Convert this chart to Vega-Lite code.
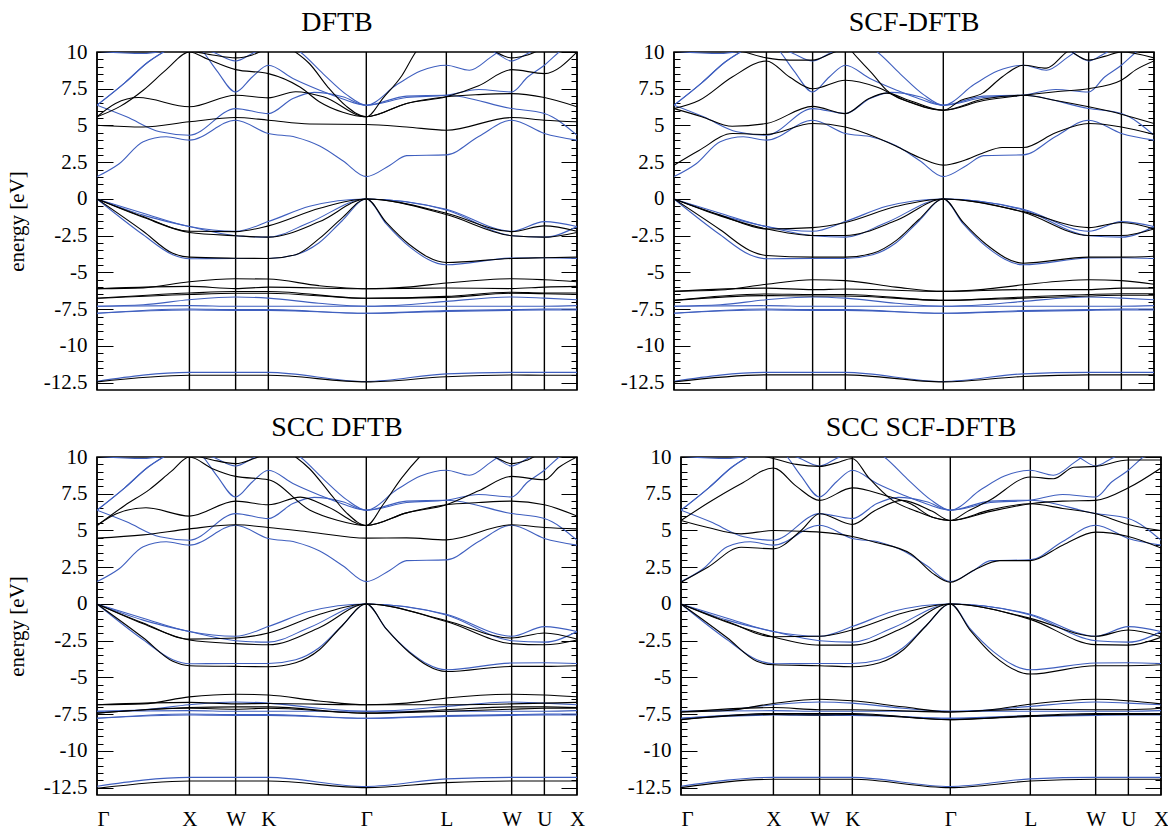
{
"$schema": "https://vega.github.io/schema/vega-lite/v6.json",
"padding": {"left": 5, "top": 8, "right": 5, "bottom": 5},
"background": "white",
"config": {
 "view": {"stroke": "black", "strokeWidth": 1.5},
 "font": "Liberation Serif",
 "title": {"font": "Liberation Serif", "fontSize": 28, "fontWeight": "normal", "color": "black", "baseline": "alphabetic", "offset": 4},
 "axis": {"labelFont": "Liberation Serif", "labelFontSize": 21, "labelColor": "black", "titleFont": "Liberation Serif", "titleFontSize": 21, "titleFontWeight": "normal", "titleColor": "black", "tickColor": "black", "domain": false, "grid": false, "labelOverlap": false, "labelFlush": false, "labelBound": false}
},
"datasets": {
"kp": [{"k":0},{"k":1},{"k":1.5},{"k":1.854},{"k":2.914},{"k":3.78},{"k":4.487},{"k":4.841},{"k":5.194}],
"blue": [
{"b":"v1","k":0,"e":0},{"b":"v1","k":0.5,"e":-0.97},{"b":"v1","k":1,"e":-1.88},{"b":"v1","k":1.5,"e":-2.2},{"b":"v1","k":1.854,"e":-1.54},{"b":"v1","k":2.3,"e":-0.5},{"b":"v1","k":2.914,"e":0},{"b":"v1","k":3.78,"e":-0.7},{"b":"v1","k":4.487,"e":-2.2},{"b":"v1","k":4.841,"e":-1.54},{"b":"v1","k":5.194,"e":-1.88},
{"b":"v2","k":0,"e":0},{"b":"v2","k":0.5,"e":-1.1},{"b":"v2","k":1,"e":-1.88},{"b":"v2","k":1.5,"e":-2.5},{"b":"v2","k":1.854,"e":-2.6},{"b":"v2","k":2.3,"e":-1.6},{"b":"v2","k":2.914,"e":0},{"b":"v2","k":3.78,"e":-0.75},{"b":"v2","k":4.487,"e":-2.5},{"b":"v2","k":4.841,"e":-2.6},{"b":"v2","k":5.194,"e":-1.88},
{"b":"v3","k":0,"e":0},{"b":"v3","k":0.5,"e":-2.44},{"b":"v3","k":0.82,"e":-3.8},{"b":"v3","k":1,"e":-4.07},{"b":"v3","k":1.5,"e":-4.05},{"b":"v3","k":1.854,"e":-4.05},{"b":"v3","k":2.15,"e":-3.8},{"b":"v3","k":2.4,"e":-3.0},{"b":"v3","k":2.65,"e":-1.5},{"b":"v3","k":2.914,"e":0},{"b":"v3","k":3.13,"e":-1.7},{"b":"v3","k":3.38,"e":-3.24},{"b":"v3","k":3.78,"e":-4.48},{"b":"v3","k":4.487,"e":-4.02},{"b":"v3","k":4.841,"e":-4.0},{"b":"v3","k":5.194,"e":-4.05},
{"b":"f1","k":0,"e":-7.3},{"b":"f1","k":0.5,"e":-7.2},{"b":"f1","k":1,"e":-6.86},{"b":"f1","k":1.5,"e":-6.67},{"b":"f1","k":1.854,"e":-6.75},{"b":"f1","k":2.4,"e":-7.1},{"b":"f1","k":2.914,"e":-7.3},{"b":"f1","k":3.35,"e":-7.2},{"b":"f1","k":3.78,"e":-6.97},{"b":"f1","k":4.487,"e":-6.67},{"b":"f1","k":4.841,"e":-6.75},{"b":"f1","k":5.194,"e":-6.86},
{"b":"f2","k":0,"e":-7.3},{"b":"f2","k":1,"e":-7.26},{"b":"f2","k":1.5,"e":-7.3},{"b":"f2","k":1.854,"e":-7.3},{"b":"f2","k":2.914,"e":-7.3},{"b":"f2","k":3.78,"e":-7.3},{"b":"f2","k":4.487,"e":-7.3},{"b":"f2","k":4.841,"e":-7.3},{"b":"f2","k":5.194,"e":-7.26},
{"b":"f3","k":0,"e":-7.78},{"b":"f3","k":1,"e":-7.49},{"b":"f3","k":1.5,"e":-7.53},{"b":"f3","k":1.854,"e":-7.53},{"b":"f3","k":2.914,"e":-7.78},{"b":"f3","k":3.78,"e":-7.6},{"b":"f3","k":4.487,"e":-7.53},{"b":"f3","k":4.841,"e":-7.5},{"b":"f3","k":5.194,"e":-7.49},
{"b":"f4","k":0,"e":-7.78},{"b":"f4","k":1,"e":-7.56},{"b":"f4","k":1.5,"e":-7.58},{"b":"f4","k":1.854,"e":-7.58},{"b":"f4","k":2.914,"e":-7.78},{"b":"f4","k":3.78,"e":-7.65},{"b":"f4","k":4.487,"e":-7.58},{"b":"f4","k":4.841,"e":-7.56},{"b":"f4","k":5.194,"e":-7.56},
{"b":"s","k":0,"e":-12.4},{"b":"s","k":1,"e":-11.8},{"b":"s","k":1.5,"e":-11.8},{"b":"s","k":1.854,"e":-11.8},{"b":"s","k":2.914,"e":-12.42},{"b":"s","k":3.78,"e":-11.9},{"b":"s","k":4.487,"e":-11.8},{"b":"s","k":4.841,"e":-11.8},{"b":"s","k":5.194,"e":-11.8},
{"b":"c1","k":0,"e":1.52},{"b":"c1","k":0.24,"e":2.4},{"b":"c1","k":0.5,"e":3.9},{"b":"c1","k":0.75,"e":4.23},{"b":"c1","k":1,"e":4.0},{"b":"c1","k":1.5,"e":5.36},{"b":"c1","k":1.854,"e":4.46},{"b":"c1","k":2.15,"e":4.2},{"b":"c1","k":2.41,"e":3.6},{"b":"c1","k":2.66,"e":2.6},{"b":"c1","k":2.914,"e":1.52},{"b":"c1","k":3.17,"e":2.3},{"b":"c1","k":3.35,"e":2.95},{"b":"c1","k":3.78,"e":3.0},{"b":"c1","k":4.13,"e":4.25},{"b":"c1","k":4.487,"e":5.36},{"b":"c1","k":4.841,"e":4.46},{"b":"c1","k":5.194,"e":4.0},
{"b":"c2","k":0,"e":6.38},{"b":"c2","k":0.32,"e":5.59},{"b":"c2","k":0.68,"e":4.57},{"b":"c2","k":1,"e":4.34},{"b":"c2","k":1.5,"e":6.15},{"b":"c2","k":1.854,"e":5.81},{"b":"c2","k":2.12,"e":6.83},{"b":"c2","k":2.35,"e":7.25},{"b":"c2","k":2.66,"e":6.95},{"b":"c2","k":2.914,"e":6.38},{"b":"c2","k":3.35,"e":7.0},{"b":"c2","k":3.78,"e":7.06},{"b":"c2","k":4.487,"e":6.15},{"b":"c2","k":4.841,"e":5.81},{"b":"c2","k":5.194,"e":4.34},
{"b":"c3","k":0,"e":6.38},{"b":"c3","k":0.3,"e":7.9},{"b":"c3","k":0.55,"e":9.3},{"b":"c3","k":0.8,"e":10.3},{"b":"c3","k":1,"e":11},{"b":"c3","k":1.854,"e":11},{"b":"c3","k":2.2,"e":10.0},{"b":"c3","k":2.45,"e":8.5},{"b":"c3","k":2.7,"e":7.1},{"b":"c3","k":2.914,"e":6.38},{"b":"c3","k":3.25,"e":7.8},{"b":"c3","k":3.5,"e":8.7},{"b":"c3","k":3.78,"e":9.1},{"b":"c3","k":4.03,"e":8.76},{"b":"c3","k":4.25,"e":9.6},{"b":"c3","k":4.4,"e":10.3},{"b":"c3","k":4.487,"e":10.8},{"b":"c3","k":5.194,"e":11},
{"b":"c4","k":0,"e":6.38},{"b":"c4","k":0.3,"e":7.9},{"b":"c4","k":0.55,"e":9.3},{"b":"c4","k":0.8,"e":10.3},{"b":"c4","k":1,"e":11},{"b":"c4","k":1.15,"e":10.0},{"b":"c4","k":1.3,"e":8.7},{"b":"c4","k":1.5,"e":7.28},{"b":"c4","k":1.68,"e":8.3},{"b":"c4","k":1.854,"e":9.1},{"b":"c4","k":2.12,"e":8.2},{"b":"c4","k":2.41,"e":7.4},{"b":"c4","k":2.66,"e":6.8},{"b":"c4","k":2.914,"e":6.38},{"b":"c4","k":3.35,"e":6.9},{"b":"c4","k":3.78,"e":7.06},{"b":"c4","k":4.13,"e":7.45},{"b":"c4","k":4.487,"e":7.28},{"b":"c4","k":4.66,"e":8.3},{"b":"c4","k":4.841,"e":9.1},{"b":"c4","k":5.0,"e":10.0},{"b":"c4","k":5.194,"e":11},
{"b":"c5","k":0,"e":10.05},{"b":"c5","k":0.5,"e":9.9},{"b":"c5","k":0.9,"e":10.3},{"b":"c5","k":1,"e":10.4},{"b":"c5","k":1.25,"e":10.0},{"b":"c5","k":1.5,"e":9.39},{"b":"c5","k":1.68,"e":9.9},{"b":"c5","k":1.854,"e":10.4},{"b":"c5","k":2.3,"e":11},{"b":"c5","k":2.914,"e":11},{"b":"c5","k":3.78,"e":11},{"b":"c5","k":4.3,"e":10.0},{"b":"c5","k":4.487,"e":9.39},{"b":"c5","k":4.66,"e":9.9},{"b":"c5","k":4.841,"e":10.4},{"b":"c5","k":5.194,"e":10.4}
],
"black": [
{"p":"A","b":"v1","k":0,"e":0},{"p":"A","b":"v1","k":0.5,"e":-1.2},{"p":"A","b":"v1","k":1,"e":-2.2},{"p":"A","b":"v1","k":1.5,"e":-2.22},{"p":"A","b":"v1","k":1.854,"e":-1.83},{"p":"A","b":"v1","k":2.41,"e":-0.63},{"p":"A","b":"v1","k":2.914,"e":0},{"p":"A","b":"v1","k":3.78,"e":-0.97},{"p":"A","b":"v1","k":4.487,"e":-2.22},{"p":"A","b":"v1","k":4.841,"e":-1.83},{"p":"A","b":"v1","k":5.194,"e":-2.2},
{"p":"A","b":"v2","k":0,"e":0},{"p":"A","b":"v2","k":0.5,"e":-1.25},{"p":"A","b":"v2","k":1,"e":-2.28},{"p":"A","b":"v2","k":1.5,"e":-2.5},{"p":"A","b":"v2","k":1.854,"e":-2.6},{"p":"A","b":"v2","k":2.41,"e":-1.54},{"p":"A","b":"v2","k":2.914,"e":0},{"p":"A","b":"v2","k":3.78,"e":-1.06},{"p":"A","b":"v2","k":4.487,"e":-2.5},{"p":"A","b":"v2","k":4.841,"e":-2.6},{"p":"A","b":"v2","k":5.194,"e":-2.28},
{"p":"A","b":"v3","k":0,"e":0},{"p":"A","b":"v3","k":0.5,"e":-2.2},{"p":"A","b":"v3","k":0.82,"e":-3.7},{"p":"A","b":"v3","k":1,"e":-3.96},{"p":"A","b":"v3","k":1.5,"e":-4.03},{"p":"A","b":"v3","k":1.854,"e":-4.05},{"p":"A","b":"v3","k":2.15,"e":-3.8},{"p":"A","b":"v3","k":2.41,"e":-2.67},{"p":"A","b":"v3","k":2.65,"e":-1.3},{"p":"A","b":"v3","k":2.914,"e":0},{"p":"A","b":"v3","k":3.13,"e":-1.6},{"p":"A","b":"v3","k":3.38,"e":-3.1},{"p":"A","b":"v3","k":3.78,"e":-4.32},{"p":"A","b":"v3","k":4.487,"e":-4.05},{"p":"A","b":"v3","k":4.841,"e":-4.0},{"p":"A","b":"v3","k":5.194,"e":-3.96},
{"p":"A","b":"f1","k":0,"e":-6.11},{"p":"A","b":"f1","k":0.5,"e":-6.05},{"p":"A","b":"f1","k":1,"e":-5.63},{"p":"A","b":"f1","k":1.5,"e":-5.43},{"p":"A","b":"f1","k":1.854,"e":-5.45},{"p":"A","b":"f1","k":2.4,"e":-5.9},{"p":"A","b":"f1","k":2.914,"e":-6.11},{"p":"A","b":"f1","k":3.35,"e":-6.0},{"p":"A","b":"f1","k":3.78,"e":-5.72},{"p":"A","b":"f1","k":4.487,"e":-5.43},{"p":"A","b":"f1","k":4.841,"e":-5.5},{"p":"A","b":"f1","k":5.194,"e":-5.63},
{"p":"A","b":"f2","k":0,"e":-6.11},{"p":"A","b":"f2","k":1,"e":-5.95},{"p":"A","b":"f2","k":1.5,"e":-6.1},{"p":"A","b":"f2","k":1.854,"e":-6.0},{"p":"A","b":"f2","k":2.914,"e":-6.11},{"p":"A","b":"f2","k":3.78,"e":-6.06},{"p":"A","b":"f2","k":4.487,"e":-6.1},{"p":"A","b":"f2","k":4.841,"e":-6.0},{"p":"A","b":"f2","k":5.194,"e":-5.95},
{"p":"A","b":"f3","k":0,"e":-6.76},{"p":"A","b":"f3","k":1,"e":-6.4},{"p":"A","b":"f3","k":1.5,"e":-6.3},{"p":"A","b":"f3","k":1.854,"e":-6.3},{"p":"A","b":"f3","k":2.914,"e":-6.76},{"p":"A","b":"f3","k":3.78,"e":-6.63},{"p":"A","b":"f3","k":4.487,"e":-6.35},{"p":"A","b":"f3","k":4.841,"e":-6.4},{"p":"A","b":"f3","k":5.194,"e":-6.4},
{"p":"A","b":"f4","k":0,"e":-6.76},{"p":"A","b":"f4","k":1,"e":-6.5},{"p":"A","b":"f4","k":1.5,"e":-6.42},{"p":"A","b":"f4","k":1.854,"e":-6.42},{"p":"A","b":"f4","k":2.914,"e":-6.76},{"p":"A","b":"f4","k":3.78,"e":-6.7},{"p":"A","b":"f4","k":4.487,"e":-6.42},{"p":"A","b":"f4","k":4.841,"e":-6.45},{"p":"A","b":"f4","k":5.194,"e":-6.5},
{"p":"A","b":"s","k":0,"e":-12.45},{"p":"A","b":"s","k":1,"e":-12.0},{"p":"A","b":"s","k":1.5,"e":-12.0},{"p":"A","b":"s","k":1.854,"e":-12.0},{"p":"A","b":"s","k":2.914,"e":-12.45},{"p":"A","b":"s","k":3.78,"e":-12.1},{"p":"A","b":"s","k":4.487,"e":-11.98},{"p":"A","b":"s","k":4.841,"e":-12.0},{"p":"A","b":"s","k":5.194,"e":-12.0},
{"p":"A","b":"c1","k":0,"e":5.02},{"p":"A","b":"c1","k":0.5,"e":4.9},{"p":"A","b":"c1","k":1,"e":5.25},{"p":"A","b":"c1","k":1.5,"e":5.54},{"p":"A","b":"c1","k":1.854,"e":5.36},{"p":"A","b":"c1","k":2.3,"e":5.1},{"p":"A","b":"c1","k":2.914,"e":5.07},{"p":"A","b":"c1","k":3.35,"e":4.9},{"p":"A","b":"c1","k":3.78,"e":4.68},{"p":"A","b":"c1","k":4.487,"e":5.54},{"p":"A","b":"c1","k":4.841,"e":5.36},{"p":"A","b":"c1","k":5.194,"e":5.25},
{"p":"A","b":"c2","k":0,"e":5.59},{"p":"A","b":"c2","k":0.2,"e":6.5},{"p":"A","b":"c2","k":0.45,"e":6.9},{"p":"A","b":"c2","k":1,"e":6.27},{"p":"A","b":"c2","k":1.5,"e":7.06},{"p":"A","b":"c2","k":1.854,"e":6.88},{"p":"A","b":"c2","k":2.15,"e":7.3},{"p":"A","b":"c2","k":2.45,"e":6.95},{"p":"A","b":"c2","k":2.914,"e":5.59},{"p":"A","b":"c2","k":3.35,"e":6.5},{"p":"A","b":"c2","k":3.78,"e":6.95},{"p":"A","b":"c2","k":4.13,"e":7.1},{"p":"A","b":"c2","k":4.487,"e":7.17},{"p":"A","b":"c2","k":4.841,"e":6.9},{"p":"A","b":"c2","k":5.194,"e":6.27},
{"p":"A","b":"c3","k":0,"e":5.59},{"p":"A","b":"c3","k":0.25,"e":6.3},{"p":"A","b":"c3","k":0.5,"e":7.4},{"p":"A","b":"c3","k":0.75,"e":8.8},{"p":"A","b":"c3","k":1,"e":10.0},{"p":"A","b":"c3","k":1.2,"e":9.5},{"p":"A","b":"c3","k":1.5,"e":8.8},{"p":"A","b":"c3","k":1.854,"e":8.53},{"p":"A","b":"c3","k":2.2,"e":7.6},{"p":"A","b":"c3","k":2.41,"e":6.6},{"p":"A","b":"c3","k":2.66,"e":5.9},{"p":"A","b":"c3","k":2.914,"e":5.59},{"p":"A","b":"c3","k":3.35,"e":6.5},{"p":"A","b":"c3","k":3.78,"e":6.95},{"p":"A","b":"c3","k":4.13,"e":7.7},{"p":"A","b":"c3","k":4.487,"e":8.8},{"p":"A","b":"c3","k":4.841,"e":8.53},{"p":"A","b":"c3","k":5.194,"e":10.0},
{"p":"A","b":"c4","k":0,"e":11},{"p":"A","b":"c4","k":1.854,"e":11},{"p":"A","b":"c4","k":2.1,"e":10.2},{"p":"A","b":"c4","k":2.3,"e":9.2},{"p":"A","b":"c4","k":2.5,"e":7.6},{"p":"A","b":"c4","k":2.7,"e":6.3},{"p":"A","b":"c4","k":2.914,"e":5.59},{"p":"A","b":"c4","k":3.1,"e":6.9},{"p":"A","b":"c4","k":3.3,"e":8.4},{"p":"A","b":"c4","k":3.45,"e":10.0},{"p":"A","b":"c4","k":3.78,"e":11.5},{"p":"A","b":"c4","k":5.194,"e":11.5},
{"p":"A","b":"c5","k":0,"e":11},{"p":"A","b":"c5","k":0.7,"e":10.5},{"p":"A","b":"c5","k":1,"e":10.1},{"p":"A","b":"c5","k":1.25,"e":9.8},{"p":"A","b":"c5","k":1.5,"e":9.6},{"p":"A","b":"c5","k":1.68,"e":9.8},{"p":"A","b":"c5","k":1.854,"e":10.3},{"p":"A","b":"c5","k":2.1,"e":11},{"p":"A","b":"c5","k":2.914,"e":11},{"p":"A","b":"c5","k":3.78,"e":11},{"p":"A","b":"c5","k":4.25,"e":10.2},{"p":"A","b":"c5","k":4.487,"e":9.6},{"p":"A","b":"c5","k":4.66,"e":9.8},{"p":"A","b":"c5","k":4.841,"e":10.2},{"p":"A","b":"c5","k":5.194,"e":10.3},

{"p":"B","b":"v1","k":0,"e":0},{"p":"B","b":"v1","k":0.5,"e":-1.1},{"p":"B","b":"v1","k":1,"e":-2.04},{"p":"B","b":"v1","k":1.5,"e":-1.95},{"p":"B","b":"v1","k":1.854,"e":-1.6},{"p":"B","b":"v1","k":2.41,"e":-0.5},{"p":"B","b":"v1","k":2.914,"e":0},{"p":"B","b":"v1","k":3.78,"e":-0.86},{"p":"B","b":"v1","k":4.487,"e":-1.95},{"p":"B","b":"v1","k":4.841,"e":-1.6},{"p":"B","b":"v1","k":5.194,"e":-2.04},
{"p":"B","b":"v2","k":0,"e":0},{"p":"B","b":"v2","k":0.5,"e":-1.15},{"p":"B","b":"v2","k":1,"e":-2.04},{"p":"B","b":"v2","k":1.5,"e":-2.49},{"p":"B","b":"v2","k":1.854,"e":-2.49},{"p":"B","b":"v2","k":2.41,"e":-1.45},{"p":"B","b":"v2","k":2.914,"e":0},{"p":"B","b":"v2","k":3.78,"e":-0.9},{"p":"B","b":"v2","k":4.487,"e":-2.49},{"p":"B","b":"v2","k":4.841,"e":-2.49},{"p":"B","b":"v2","k":5.194,"e":-2.04},
{"p":"B","b":"v3","k":0,"e":0},{"p":"B","b":"v3","k":0.5,"e":-2.1},{"p":"B","b":"v3","k":0.82,"e":-3.5},{"p":"B","b":"v3","k":1,"e":-3.85},{"p":"B","b":"v3","k":1.5,"e":-3.96},{"p":"B","b":"v3","k":1.854,"e":-3.96},{"p":"B","b":"v3","k":2.15,"e":-3.7},{"p":"B","b":"v3","k":2.41,"e":-2.8},{"p":"B","b":"v3","k":2.65,"e":-1.4},{"p":"B","b":"v3","k":2.914,"e":0},{"p":"B","b":"v3","k":3.13,"e":-1.6},{"p":"B","b":"v3","k":3.38,"e":-3.1},{"p":"B","b":"v3","k":3.78,"e":-4.37},{"p":"B","b":"v3","k":4.487,"e":-3.96},{"p":"B","b":"v3","k":4.841,"e":-3.96},{"p":"B","b":"v3","k":5.194,"e":-3.9},
{"p":"B","b":"f1","k":0,"e":-6.29},{"p":"B","b":"f1","k":0.5,"e":-6.2},{"p":"B","b":"f1","k":1,"e":-5.8},{"p":"B","b":"f1","k":1.5,"e":-5.5},{"p":"B","b":"f1","k":1.854,"e":-5.56},{"p":"B","b":"f1","k":2.4,"e":-6.0},{"p":"B","b":"f1","k":2.914,"e":-6.29},{"p":"B","b":"f1","k":3.35,"e":-6.15},{"p":"B","b":"f1","k":3.78,"e":-5.84},{"p":"B","b":"f1","k":4.487,"e":-5.5},{"p":"B","b":"f1","k":4.841,"e":-5.56},{"p":"B","b":"f1","k":5.194,"e":-5.8},
{"p":"B","b":"f2","k":0,"e":-6.29},{"p":"B","b":"f2","k":1,"e":-6.07},{"p":"B","b":"f2","k":1.5,"e":-6.17},{"p":"B","b":"f2","k":1.854,"e":-6.13},{"p":"B","b":"f2","k":2.914,"e":-6.29},{"p":"B","b":"f2","k":3.78,"e":-6.17},{"p":"B","b":"f2","k":4.487,"e":-6.17},{"p":"B","b":"f2","k":4.841,"e":-6.07},{"p":"B","b":"f2","k":5.194,"e":-6.07},
{"p":"B","b":"f3","k":0,"e":-6.9},{"p":"B","b":"f3","k":1,"e":-6.47},{"p":"B","b":"f3","k":1.5,"e":-6.5},{"p":"B","b":"f3","k":1.854,"e":-6.5},{"p":"B","b":"f3","k":2.914,"e":-6.9},{"p":"B","b":"f3","k":3.78,"e":-6.67},{"p":"B","b":"f3","k":4.487,"e":-6.5},{"p":"B","b":"f3","k":4.841,"e":-6.45},{"p":"B","b":"f3","k":5.194,"e":-6.45},
{"p":"B","b":"f4","k":0,"e":-6.9},{"p":"B","b":"f4","k":1,"e":-6.58},{"p":"B","b":"f4","k":1.5,"e":-6.6},{"p":"B","b":"f4","k":1.854,"e":-6.6},{"p":"B","b":"f4","k":2.914,"e":-6.9},{"p":"B","b":"f4","k":3.78,"e":-6.75},{"p":"B","b":"f4","k":4.487,"e":-6.6},{"p":"B","b":"f4","k":4.841,"e":-6.55},{"p":"B","b":"f4","k":5.194,"e":-6.55},
{"p":"B","b":"s","k":0,"e":-12.45},{"p":"B","b":"s","k":1,"e":-11.97},{"p":"B","b":"s","k":1.5,"e":-11.97},{"p":"B","b":"s","k":1.854,"e":-11.97},{"p":"B","b":"s","k":2.914,"e":-12.45},{"p":"B","b":"s","k":3.78,"e":-12.08},{"p":"B","b":"s","k":4.487,"e":-11.97},{"p":"B","b":"s","k":4.841,"e":-11.97},{"p":"B","b":"s","k":5.194,"e":-11.97},
{"p":"B","b":"c1","k":0,"e":2.3},{"p":"B","b":"c1","k":0.27,"e":3.3},{"p":"B","b":"c1","k":0.63,"e":4.45},{"p":"B","b":"c1","k":1,"e":4.39},{"p":"B","b":"c1","k":1.5,"e":5.13},{"p":"B","b":"c1","k":1.854,"e":4.9},{"p":"B","b":"c1","k":2.1,"e":4.4},{"p":"B","b":"c1","k":2.4,"e":3.6},{"p":"B","b":"c1","k":2.66,"e":2.8},{"p":"B","b":"c1","k":2.914,"e":2.3},{"p":"B","b":"c1","k":3.13,"e":2.6},{"p":"B","b":"c1","k":3.35,"e":3.15},{"p":"B","b":"c1","k":3.55,"e":3.5},{"p":"B","b":"c1","k":3.78,"e":3.5},{"p":"B","b":"c1","k":4.13,"e":4.5},{"p":"B","b":"c1","k":4.487,"e":5.13},{"p":"B","b":"c1","k":4.841,"e":4.9},{"p":"B","b":"c1","k":5.194,"e":4.39},
{"p":"B","b":"c2","k":0,"e":6.15},{"p":"B","b":"c2","k":0.3,"e":5.6},{"p":"B","b":"c2","k":0.63,"e":4.95},{"p":"B","b":"c2","k":1,"e":5.13},{"p":"B","b":"c2","k":1.5,"e":6.3},{"p":"B","b":"c2","k":1.854,"e":5.81},{"p":"B","b":"c2","k":2.1,"e":6.8},{"p":"B","b":"c2","k":2.3,"e":7.2},{"p":"B","b":"c2","k":2.55,"e":6.7},{"p":"B","b":"c2","k":2.914,"e":6.04},{"p":"B","b":"c2","k":3.35,"e":6.8},{"p":"B","b":"c2","k":3.78,"e":7.06},{"p":"B","b":"c2","k":4.13,"e":6.7},{"p":"B","b":"c2","k":4.487,"e":6.27},{"p":"B","b":"c2","k":4.841,"e":5.77},{"p":"B","b":"c2","k":5.194,"e":5.13},
{"p":"B","b":"c3","k":0,"e":6.15},{"p":"B","b":"c3","k":0.27,"e":6.7},{"p":"B","b":"c3","k":0.63,"e":8.3},{"p":"B","b":"c3","k":1,"e":9.39},{"p":"B","b":"c3","k":1.25,"e":8.3},{"p":"B","b":"c3","k":1.5,"e":7.5},{"p":"B","b":"c3","k":1.854,"e":8.08},{"p":"B","b":"c3","k":2.2,"e":7.6},{"p":"B","b":"c3","k":2.5,"e":6.7},{"p":"B","b":"c3","k":2.914,"e":6.04},{"p":"B","b":"c3","k":3.35,"e":6.7},{"p":"B","b":"c3","k":3.78,"e":7.06},{"p":"B","b":"c3","k":4.13,"e":7.3},{"p":"B","b":"c3","k":4.487,"e":7.5},{"p":"B","b":"c3","k":4.841,"e":8.08},{"p":"B","b":"c3","k":5.0,"e":8.8},{"p":"B","b":"c3","k":5.194,"e":9.39},
{"p":"B","b":"c4","k":0,"e":11},{"p":"B","b":"c4","k":1.854,"e":10.6},{"p":"B","b":"c4","k":1.93,"e":10.0},{"p":"B","b":"c4","k":2.15,"e":8.5},{"p":"B","b":"c4","k":2.3,"e":7.4},{"p":"B","b":"c4","k":2.6,"e":6.5},{"p":"B","b":"c4","k":2.914,"e":6.04},{"p":"B","b":"c4","k":3.1,"e":6.7},{"p":"B","b":"c4","k":3.34,"e":7.2},{"p":"B","b":"c4","k":3.55,"e":8.3},{"p":"B","b":"c4","k":3.78,"e":9.1},{"p":"B","b":"c4","k":4.03,"e":8.9},{"p":"B","b":"c4","k":4.25,"e":10.0},{"p":"B","b":"c4","k":4.487,"e":10.8},{"p":"B","b":"c4","k":5.194,"e":11},
{"p":"B","b":"c5","k":0,"e":11},{"p":"B","b":"c5","k":0.6,"e":10.3},{"p":"B","b":"c5","k":1,"e":9.6},{"p":"B","b":"c5","k":1.25,"e":9.45},{"p":"B","b":"c5","k":1.5,"e":9.45},{"p":"B","b":"c5","k":1.7,"e":9.9},{"p":"B","b":"c5","k":1.854,"e":10.3},{"p":"B","b":"c5","k":2.1,"e":11},{"p":"B","b":"c5","k":2.914,"e":11},{"p":"B","b":"c5","k":3.78,"e":11},{"p":"B","b":"c5","k":4.25,"e":10.2},{"p":"B","b":"c5","k":4.487,"e":9.45},{"p":"B","b":"c5","k":4.66,"e":9.7},{"p":"B","b":"c5","k":4.841,"e":10.0},{"p":"B","b":"c5","k":5.194,"e":9.6},

{"p":"C","b":"v1","k":0,"e":0},{"p":"C","b":"v1","k":0.5,"e":-1.3},{"p":"C","b":"v1","k":1,"e":-2.39},{"p":"C","b":"v1","k":1.5,"e":-2.32},{"p":"C","b":"v1","k":1.854,"e":-1.98},{"p":"C","b":"v1","k":2.41,"e":-0.7},{"p":"C","b":"v1","k":2.914,"e":0},{"p":"C","b":"v1","k":3.78,"e":-1.14},{"p":"C","b":"v1","k":4.487,"e":-2.32},{"p":"C","b":"v1","k":4.841,"e":-1.98},{"p":"C","b":"v1","k":5.194,"e":-2.39},
{"p":"C","b":"v2","k":0,"e":0},{"p":"C","b":"v2","k":0.5,"e":-1.35},{"p":"C","b":"v2","k":1,"e":-2.45},{"p":"C","b":"v2","k":1.5,"e":-2.7},{"p":"C","b":"v2","k":1.854,"e":-2.78},{"p":"C","b":"v2","k":2.41,"e":-1.6},{"p":"C","b":"v2","k":2.914,"e":0},{"p":"C","b":"v2","k":3.78,"e":-1.2},{"p":"C","b":"v2","k":4.487,"e":-2.7},{"p":"C","b":"v2","k":4.841,"e":-2.78},{"p":"C","b":"v2","k":5.194,"e":-2.45},
{"p":"C","b":"v3","k":0,"e":0},{"p":"C","b":"v3","k":0.5,"e":-2.3},{"p":"C","b":"v3","k":0.82,"e":-3.9},{"p":"C","b":"v3","k":1,"e":-4.2},{"p":"C","b":"v3","k":1.5,"e":-4.25},{"p":"C","b":"v3","k":1.854,"e":-4.27},{"p":"C","b":"v3","k":2.15,"e":-4.0},{"p":"C","b":"v3","k":2.41,"e":-3.1},{"p":"C","b":"v3","k":2.65,"e":-1.5},{"p":"C","b":"v3","k":2.914,"e":0},{"p":"C","b":"v3","k":3.13,"e":-1.7},{"p":"C","b":"v3","k":3.38,"e":-3.3},{"p":"C","b":"v3","k":3.78,"e":-4.6},{"p":"C","b":"v3","k":4.487,"e":-4.25},{"p":"C","b":"v3","k":4.841,"e":-4.25},{"p":"C","b":"v3","k":5.194,"e":-4.2},
{"p":"C","b":"f1","k":0,"e":-6.86},{"p":"C","b":"f1","k":0.5,"e":-6.8},{"p":"C","b":"f1","k":1,"e":-6.32},{"p":"C","b":"f1","k":1.5,"e":-6.14},{"p":"C","b":"f1","k":1.854,"e":-6.2},{"p":"C","b":"f1","k":2.4,"e":-6.6},{"p":"C","b":"f1","k":2.914,"e":-6.86},{"p":"C","b":"f1","k":3.35,"e":-6.75},{"p":"C","b":"f1","k":3.78,"e":-6.4},{"p":"C","b":"f1","k":4.487,"e":-6.14},{"p":"C","b":"f1","k":4.841,"e":-6.2},{"p":"C","b":"f1","k":5.194,"e":-6.32},
{"p":"C","b":"f2","k":0,"e":-6.86},{"p":"C","b":"f2","k":1,"e":-6.7},{"p":"C","b":"f2","k":1.5,"e":-6.8},{"p":"C","b":"f2","k":1.854,"e":-6.77},{"p":"C","b":"f2","k":2.914,"e":-6.86},{"p":"C","b":"f2","k":3.78,"e":-6.86},{"p":"C","b":"f2","k":4.487,"e":-6.8},{"p":"C","b":"f2","k":4.841,"e":-6.75},{"p":"C","b":"f2","k":5.194,"e":-6.7},
{"p":"C","b":"f3","k":0,"e":-7.43},{"p":"C","b":"f3","k":1,"e":-7.05},{"p":"C","b":"f3","k":1.5,"e":-7.0},{"p":"C","b":"f3","k":1.854,"e":-7.0},{"p":"C","b":"f3","k":2.914,"e":-7.43},{"p":"C","b":"f3","k":3.78,"e":-7.2},{"p":"C","b":"f3","k":4.487,"e":-7.0},{"p":"C","b":"f3","k":4.841,"e":-7.0},{"p":"C","b":"f3","k":5.194,"e":-7.05},
{"p":"C","b":"f4","k":0,"e":-7.43},{"p":"C","b":"f4","k":1,"e":-7.1},{"p":"C","b":"f4","k":1.5,"e":-7.16},{"p":"C","b":"f4","k":1.854,"e":-7.1},{"p":"C","b":"f4","k":2.914,"e":-7.43},{"p":"C","b":"f4","k":3.78,"e":-7.3},{"p":"C","b":"f4","k":4.487,"e":-7.16},{"p":"C","b":"f4","k":4.841,"e":-7.1},{"p":"C","b":"f4","k":5.194,"e":-7.1},
{"p":"C","b":"s","k":0,"e":-12.55},{"p":"C","b":"s","k":1,"e":-12.05},{"p":"C","b":"s","k":1.5,"e":-12.05},{"p":"C","b":"s","k":1.854,"e":-12.05},{"p":"C","b":"s","k":2.914,"e":-12.5},{"p":"C","b":"s","k":3.78,"e":-12.16},{"p":"C","b":"s","k":4.487,"e":-12.05},{"p":"C","b":"s","k":4.841,"e":-12.05},{"p":"C","b":"s","k":5.194,"e":-12.05},
{"p":"C","b":"c1","k":0,"e":4.48},{"p":"C","b":"c1","k":0.5,"e":4.7},{"p":"C","b":"c1","k":1,"e":5.11},{"p":"C","b":"c1","k":1.5,"e":5.39},{"p":"C","b":"c1","k":1.854,"e":5.2},{"p":"C","b":"c1","k":2.3,"e":4.9},{"p":"C","b":"c1","k":2.914,"e":4.48},{"p":"C","b":"c1","k":3.35,"e":4.5},{"p":"C","b":"c1","k":3.78,"e":4.36},{"p":"C","b":"c1","k":4.487,"e":5.39},{"p":"C","b":"c1","k":4.841,"e":5.2},{"p":"C","b":"c1","k":5.194,"e":5.11},
{"p":"C","b":"c2","k":0,"e":5.34},{"p":"C","b":"c2","k":0.21,"e":6.14},{"p":"C","b":"c2","k":0.53,"e":6.55},{"p":"C","b":"c2","k":1,"e":5.98},{"p":"C","b":"c2","k":1.5,"e":7.0},{"p":"C","b":"c2","k":1.854,"e":6.75},{"p":"C","b":"c2","k":2.2,"e":7.27},{"p":"C","b":"c2","k":2.5,"e":6.6},{"p":"C","b":"c2","k":2.914,"e":5.34},{"p":"C","b":"c2","k":3.35,"e":6.2},{"p":"C","b":"c2","k":3.78,"e":6.75},{"p":"C","b":"c2","k":4.13,"e":6.9},{"p":"C","b":"c2","k":4.487,"e":7.0},{"p":"C","b":"c2","k":4.841,"e":6.75},{"p":"C","b":"c2","k":5.194,"e":5.98},
{"p":"C","b":"c3","k":0,"e":5.34},{"p":"C","b":"c3","k":0.3,"e":6.7},{"p":"C","b":"c3","k":0.57,"e":7.8},{"p":"C","b":"c3","k":0.8,"e":9.0},{"p":"C","b":"c3","k":1,"e":10.0},{"p":"C","b":"c3","k":1.25,"e":9.2},{"p":"C","b":"c3","k":1.5,"e":8.68},{"p":"C","b":"c3","k":1.854,"e":8.45},{"p":"C","b":"c3","k":2.3,"e":6.4},{"p":"C","b":"c3","k":2.6,"e":5.7},{"p":"C","b":"c3","k":2.914,"e":5.34},{"p":"C","b":"c3","k":3.35,"e":6.2},{"p":"C","b":"c3","k":3.78,"e":6.75},{"p":"C","b":"c3","k":4.13,"e":7.7},{"p":"C","b":"c3","k":4.487,"e":8.68},{"p":"C","b":"c3","k":4.841,"e":8.45},{"p":"C","b":"c3","k":5.0,"e":9.3},{"p":"C","b":"c3","k":5.194,"e":10.0},
{"p":"C","b":"c4","k":0,"e":11},{"p":"C","b":"c4","k":1.854,"e":11},{"p":"C","b":"c4","k":2.0,"e":10.6},{"p":"C","b":"c4","k":2.15,"e":10.0},{"p":"C","b":"c4","k":2.3,"e":9.2},{"p":"C","b":"c4","k":2.5,"e":7.7},{"p":"C","b":"c4","k":2.7,"e":6.2},{"p":"C","b":"c4","k":2.914,"e":5.34},{"p":"C","b":"c4","k":3.1,"e":6.8},{"p":"C","b":"c4","k":3.3,"e":8.6},{"p":"C","b":"c4","k":3.49,"e":10.0},{"p":"C","b":"c4","k":3.78,"e":11.5},{"p":"C","b":"c4","k":5.194,"e":11.5},
{"p":"C","b":"c5","k":0,"e":11},{"p":"C","b":"c5","k":0.7,"e":10.5},{"p":"C","b":"c5","k":1,"e":10.2},{"p":"C","b":"c5","k":1.25,"e":9.8},{"p":"C","b":"c5","k":1.5,"e":9.55},{"p":"C","b":"c5","k":1.7,"e":9.9},{"p":"C","b":"c5","k":1.854,"e":10.3},{"p":"C","b":"c5","k":2.1,"e":11},{"p":"C","b":"c5","k":2.914,"e":11},{"p":"C","b":"c5","k":3.78,"e":11},{"p":"C","b":"c5","k":4.3,"e":10.0},{"p":"C","b":"c5","k":4.487,"e":9.55},{"p":"C","b":"c5","k":4.66,"e":9.8},{"p":"C","b":"c5","k":4.841,"e":10.3},{"p":"C","b":"c5","k":5.194,"e":10.2},

{"p":"D","b":"v1","k":0,"e":0},{"p":"D","b":"v1","k":0.5,"e":-1.2},{"p":"D","b":"v1","k":1,"e":-2.23},{"p":"D","b":"v1","k":1.5,"e":-2.2},{"p":"D","b":"v1","k":1.854,"e":-1.77},{"p":"D","b":"v1","k":2.41,"e":-0.6},{"p":"D","b":"v1","k":2.914,"e":0},{"p":"D","b":"v1","k":3.78,"e":-0.98},{"p":"D","b":"v1","k":4.487,"e":-2.2},{"p":"D","b":"v1","k":4.841,"e":-1.77},{"p":"D","b":"v1","k":5.194,"e":-2.23},
{"p":"D","b":"v2","k":0,"e":0},{"p":"D","b":"v2","k":0.5,"e":-1.25},{"p":"D","b":"v2","k":1,"e":-2.25},{"p":"D","b":"v2","k":1.5,"e":-2.8},{"p":"D","b":"v2","k":1.854,"e":-2.8},{"p":"D","b":"v2","k":2.41,"e":-1.6},{"p":"D","b":"v2","k":2.914,"e":0},{"p":"D","b":"v2","k":3.78,"e":-1.05},{"p":"D","b":"v2","k":4.487,"e":-2.77},{"p":"D","b":"v2","k":4.841,"e":-2.8},{"p":"D","b":"v2","k":5.194,"e":-2.27},
{"p":"D","b":"v3","k":0,"e":0},{"p":"D","b":"v3","k":0.5,"e":-2.3},{"p":"D","b":"v3","k":0.82,"e":-3.9},{"p":"D","b":"v3","k":1,"e":-4.14},{"p":"D","b":"v3","k":1.5,"e":-4.2},{"p":"D","b":"v3","k":1.854,"e":-4.27},{"p":"D","b":"v3","k":2.15,"e":-4.0},{"p":"D","b":"v3","k":2.41,"e":-3.1},{"p":"D","b":"v3","k":2.65,"e":-1.5},{"p":"D","b":"v3","k":2.914,"e":0},{"p":"D","b":"v3","k":3.13,"e":-1.8},{"p":"D","b":"v3","k":3.38,"e":-3.5},{"p":"D","b":"v3","k":3.78,"e":-4.77},{"p":"D","b":"v3","k":4.487,"e":-4.2},{"p":"D","b":"v3","k":4.841,"e":-4.2},{"p":"D","b":"v3","k":5.194,"e":-4.14},
{"p":"D","b":"f1","k":0,"e":-7.35},{"p":"D","b":"f1","k":0.5,"e":-7.25},{"p":"D","b":"f1","k":1,"e":-6.77},{"p":"D","b":"f1","k":1.5,"e":-6.48},{"p":"D","b":"f1","k":1.854,"e":-6.59},{"p":"D","b":"f1","k":2.4,"e":-7.0},{"p":"D","b":"f1","k":2.914,"e":-7.35},{"p":"D","b":"f1","k":3.35,"e":-7.2},{"p":"D","b":"f1","k":3.78,"e":-6.82},{"p":"D","b":"f1","k":4.487,"e":-6.48},{"p":"D","b":"f1","k":4.841,"e":-6.59},{"p":"D","b":"f1","k":5.194,"e":-6.8},
{"p":"D","b":"f2","k":0,"e":-7.35},{"p":"D","b":"f2","k":1,"e":-7.05},{"p":"D","b":"f2","k":1.5,"e":-7.2},{"p":"D","b":"f2","k":1.854,"e":-7.2},{"p":"D","b":"f2","k":2.914,"e":-7.35},{"p":"D","b":"f2","k":3.78,"e":-7.16},{"p":"D","b":"f2","k":4.487,"e":-7.2},{"p":"D","b":"f2","k":4.841,"e":-7.2},{"p":"D","b":"f2","k":5.194,"e":-7.1},
{"p":"D","b":"f3","k":0,"e":-7.87},{"p":"D","b":"f3","k":1,"e":-7.45},{"p":"D","b":"f3","k":1.5,"e":-7.45},{"p":"D","b":"f3","k":1.854,"e":-7.45},{"p":"D","b":"f3","k":2.914,"e":-7.87},{"p":"D","b":"f3","k":3.78,"e":-7.6},{"p":"D","b":"f3","k":4.487,"e":-7.45},{"p":"D","b":"f3","k":4.841,"e":-7.45},{"p":"D","b":"f3","k":5.194,"e":-7.45},
{"p":"D","b":"f4","k":0,"e":-7.87},{"p":"D","b":"f4","k":1,"e":-7.52},{"p":"D","b":"f4","k":1.5,"e":-7.55},{"p":"D","b":"f4","k":1.854,"e":-7.52},{"p":"D","b":"f4","k":2.914,"e":-7.87},{"p":"D","b":"f4","k":3.78,"e":-7.65},{"p":"D","b":"f4","k":4.487,"e":-7.52},{"p":"D","b":"f4","k":4.841,"e":-7.52},{"p":"D","b":"f4","k":5.194,"e":-7.52},
{"p":"D","b":"s","k":0,"e":-12.5},{"p":"D","b":"s","k":1,"e":-11.93},{"p":"D","b":"s","k":1.5,"e":-11.93},{"p":"D","b":"s","k":1.854,"e":-11.93},{"p":"D","b":"s","k":2.914,"e":-12.5},{"p":"D","b":"s","k":3.78,"e":-12.05},{"p":"D","b":"s","k":4.487,"e":-11.93},{"p":"D","b":"s","k":4.841,"e":-11.93},{"p":"D","b":"s","k":5.194,"e":-11.93},
{"p":"D","b":"c1","k":0,"e":1.48},{"p":"D","b":"c1","k":0.29,"e":2.5},{"p":"D","b":"c1","k":0.65,"e":3.86},{"p":"D","b":"c1","k":1,"e":3.75},{"p":"D","b":"c1","k":1.3,"e":5.0},{"p":"D","b":"c1","k":1.5,"e":6.14},{"p":"D","b":"c1","k":1.854,"e":5.41},{"p":"D","b":"c1","k":2.1,"e":6.36},{"p":"D","b":"c1","k":2.39,"e":7.05},{"p":"D","b":"c1","k":2.72,"e":6.3},{"p":"D","b":"c1","k":2.914,"e":5.68},{"p":"D","b":"c1","k":3.35,"e":6.4},{"p":"D","b":"c1","k":3.78,"e":6.82},{"p":"D","b":"c1","k":4.13,"e":6.5},{"p":"D","b":"c1","k":4.487,"e":6.14},{"p":"D","b":"c1","k":4.841,"e":5.41},{"p":"D","b":"c1","k":5.194,"e":5.0},
{"p":"D","b":"c2","k":0,"e":5.68},{"p":"D","b":"c2","k":0.29,"e":5.2},{"p":"D","b":"c2","k":0.65,"e":4.77},{"p":"D","b":"c2","k":1,"e":5.0},{"p":"D","b":"c2","k":1.3,"e":4.95},{"p":"D","b":"c2","k":1.5,"e":4.89},{"p":"D","b":"c2","k":1.854,"e":4.59},{"p":"D","b":"c2","k":2.1,"e":4.2},{"p":"D","b":"c2","k":2.49,"e":3.4},{"p":"D","b":"c2","k":2.72,"e":2.1},{"p":"D","b":"c2","k":2.914,"e":1.48},{"p":"D","b":"c2","k":3.17,"e":2.3},{"p":"D","b":"c2","k":3.45,"e":2.95},{"p":"D","b":"c2","k":3.78,"e":2.95},{"p":"D","b":"c2","k":4.13,"e":4.0},{"p":"D","b":"c2","k":4.487,"e":4.89},{"p":"D","b":"c2","k":4.841,"e":4.59},{"p":"D","b":"c2","k":5.194,"e":3.8},
{"p":"D","b":"c3","k":0,"e":5.68},{"p":"D","b":"c3","k":0.3,"e":6.9},{"p":"D","b":"c3","k":0.65,"e":8.18},{"p":"D","b":"c3","k":1,"e":9.25},{"p":"D","b":"c3","k":1.25,"e":8.0},{"p":"D","b":"c3","k":1.5,"e":7.05},{"p":"D","b":"c3","k":1.854,"e":7.9},{"p":"D","b":"c3","k":2.2,"e":7.4},{"p":"D","b":"c3","k":2.49,"e":6.8},{"p":"D","b":"c3","k":2.72,"e":5.9},{"p":"D","b":"c3","k":2.914,"e":5.68},{"p":"D","b":"c3","k":3.35,"e":6.3},{"p":"D","b":"c3","k":3.78,"e":6.82},{"p":"D","b":"c3","k":4.13,"e":7.0},{"p":"D","b":"c3","k":4.487,"e":7.05},{"p":"D","b":"c3","k":4.841,"e":7.9},{"p":"D","b":"c3","k":5.194,"e":9.25},
{"p":"D","b":"c4","k":0,"e":11},{"p":"D","b":"c4","k":0.7,"e":10.3},{"p":"D","b":"c4","k":1,"e":9.9},{"p":"D","b":"c4","k":1.25,"e":9.5},{"p":"D","b":"c4","k":1.5,"e":9.36},{"p":"D","b":"c4","k":1.68,"e":9.6},{"p":"D","b":"c4","k":1.854,"e":9.9},{"p":"D","b":"c4","k":2.03,"e":8.6},{"p":"D","b":"c4","k":2.29,"e":7.05},{"p":"D","b":"c4","k":2.55,"e":6.3},{"p":"D","b":"c4","k":2.75,"e":5.85},{"p":"D","b":"c4","k":2.914,"e":5.68},{"p":"D","b":"c4","k":3.1,"e":6.3},{"p":"D","b":"c4","k":3.34,"e":7.05},{"p":"D","b":"c4","k":3.78,"e":8.64},{"p":"D","b":"c4","k":4.03,"e":8.52},{"p":"D","b":"c4","k":4.25,"e":9.3},{"p":"D","b":"c4","k":4.487,"e":9.36},{"p":"D","b":"c4","k":4.841,"e":9.8},{"p":"D","b":"c4","k":5.194,"e":9.8}
]
},
"vconcat": [
{"hconcat": [
 {"width": 480, "height": 338, "title": "DFTB",
  "layer": [
   {"data": {"name": "kp"}, "mark": {"type": "rule", "color": "black", "strokeWidth": 1.4}, "encoding": {"x": {"field": "k", "type": "quantitative", "scale": {"domain": [0, 5.194], "nice": false, "zero": false}, "axis": null}}},
   {"data": {"name": "blue"}, "mark": {"type": "line", "interpolate": "monotone", "color": "#3f5fbf", "strokeWidth": 1.1, "clip": true}, "encoding": {"x": {"field": "k", "type": "quantitative", "axis": null}, "y": {"field": "e", "type": "quantitative", "scale": {"domain": [-13, 10], "nice": false, "zero": false}, "axis": {"orient": "left", "values": [-12.5,-12,-11.5,-11,-10.5,-10,-9.5,-9,-8.5,-8,-7.5,-7,-6.5,-6,-5.5,-5,-4.5,-4,-3.5,-3,-2.5,-2,-1.5,-1,-0.5,0,0.5,1,1.5,2,2.5,3,3.5,4,4.5,5,5.5,6,6.5,7,7.5,8,8.5,9,9.5,10], "tickSize": {"condition": {"test": "datum.value % 2.5 === 0", "value": -16}, "value": -6}, "labelExpr": "datum.value % 2.5 === 0 ? '' + datum.value : ''", "labelPadding": 26, "title": "energy [eV]", "titlePadding": 16}}, "detail": {"field": "b"}}},
   {"data": {"name": "black"}, "transform": [{"filter": "datum.p === 'A'"}], "mark": {"type": "line", "interpolate": "monotone", "color": "black", "strokeWidth": 1.1, "clip": true}, "encoding": {"x": {"field": "k", "type": "quantitative", "axis": null}, "y": {"field": "e", "type": "quantitative", "axis": {"orient": "right", "values": [-12.5,-12,-11.5,-11,-10.5,-10,-9.5,-9,-8.5,-8,-7.5,-7,-6.5,-6,-5.5,-5,-4.5,-4,-3.5,-3,-2.5,-2,-1.5,-1,-0.5,0,0.5,1,1.5,2,2.5,3,3.5,4,4.5,5,5.5,6,6.5,7,7.5,8,8.5,9,9.5,10], "tickSize": {"condition": {"test": "datum.value % 2.5 === 0", "value": -16}, "value": -6}, "labels": false, "title": null}}, "detail": {"field": "b"}}}
  ],
  "resolve": {"axis": {"y": "independent"}}},
 {"width": 480, "height": 338, "title": "SCF-DFTB",
  "layer": [
   {"data": {"name": "kp"}, "mark": {"type": "rule", "color": "black", "strokeWidth": 1.4}, "encoding": {"x": {"field": "k", "type": "quantitative", "scale": {"domain": [0, 5.194], "nice": false, "zero": false}, "axis": null}}},
   {"data": {"name": "blue"}, "mark": {"type": "line", "interpolate": "monotone", "color": "#3f5fbf", "strokeWidth": 1.1, "clip": true}, "encoding": {"x": {"field": "k", "type": "quantitative", "axis": null}, "y": {"field": "e", "type": "quantitative", "scale": {"domain": [-13, 10], "nice": false, "zero": false}, "axis": {"orient": "left", "values": [-12.5,-12,-11.5,-11,-10.5,-10,-9.5,-9,-8.5,-8,-7.5,-7,-6.5,-6,-5.5,-5,-4.5,-4,-3.5,-3,-2.5,-2,-1.5,-1,-0.5,0,0.5,1,1.5,2,2.5,3,3.5,4,4.5,5,5.5,6,6.5,7,7.5,8,8.5,9,9.5,10], "tickSize": {"condition": {"test": "datum.value % 2.5 === 0", "value": -16}, "value": -6}, "labelExpr": "datum.value % 2.5 === 0 ? '' + datum.value : ''", "labelPadding": 26, "title": null}}, "detail": {"field": "b"}}},
   {"data": {"name": "black"}, "transform": [{"filter": "datum.p === 'B'"}], "mark": {"type": "line", "interpolate": "monotone", "color": "black", "strokeWidth": 1.1, "clip": true}, "encoding": {"x": {"field": "k", "type": "quantitative", "axis": null}, "y": {"field": "e", "type": "quantitative", "axis": {"orient": "right", "values": [-12.5,-12,-11.5,-11,-10.5,-10,-9.5,-9,-8.5,-8,-7.5,-7,-6.5,-6,-5.5,-5,-4.5,-4,-3.5,-3,-2.5,-2,-1.5,-1,-0.5,0,0.5,1,1.5,2,2.5,3,3.5,4,4.5,5,5.5,6,6.5,7,7.5,8,8.5,9,9.5,10], "tickSize": {"condition": {"test": "datum.value % 2.5 === 0", "value": -16}, "value": -6}, "labels": false, "title": null}}, "detail": {"field": "b"}}}
  ],
  "resolve": {"axis": {"y": "independent"}}}
], "spacing": 40},
{"hconcat": [
 {"width": 480, "height": 338, "title": "SCC DFTB",
  "layer": [
   {"data": {"name": "kp"}, "mark": {"type": "rule", "color": "black", "strokeWidth": 1.4}, "encoding": {"x": {"field": "k", "type": "quantitative", "scale": {"domain": [0, 5.194], "nice": false, "zero": false}, "axis": {"values": [0,1,1.5,1.854,2.914,3.78,4.487,4.841,5.194], "ticks": false, "labelPadding": 13, "labelAlign": {"condition": {"test": "datum.value < 0.5", "value": "left"}, "value": "center"}, "labelExpr": "datum.value < 0.5 ? 'Γ' : datum.value < 1.2 ? 'X' : datum.value < 1.7 ? 'W' : datum.value < 2.4 ? 'K' : datum.value < 3.3 ? 'Γ' : datum.value < 4.1 ? 'L' : datum.value < 4.7 ? 'W' : datum.value < 5.0 ? 'U' : 'X'", "title": null}}}},
   {"data": {"name": "blue"}, "mark": {"type": "line", "interpolate": "monotone", "color": "#3f5fbf", "strokeWidth": 1.1, "clip": true}, "encoding": {"x": {"field": "k", "type": "quantitative"}, "y": {"field": "e", "type": "quantitative", "scale": {"domain": [-13, 10], "nice": false, "zero": false}, "axis": {"orient": "left", "values": [-12.5,-12,-11.5,-11,-10.5,-10,-9.5,-9,-8.5,-8,-7.5,-7,-6.5,-6,-5.5,-5,-4.5,-4,-3.5,-3,-2.5,-2,-1.5,-1,-0.5,0,0.5,1,1.5,2,2.5,3,3.5,4,4.5,5,5.5,6,6.5,7,7.5,8,8.5,9,9.5,10], "tickSize": {"condition": {"test": "datum.value % 2.5 === 0", "value": -16}, "value": -6}, "labelExpr": "datum.value % 2.5 === 0 ? '' + datum.value : ''", "labelPadding": 26, "title": "energy [eV]", "titlePadding": 16}}, "detail": {"field": "b"}}},
   {"data": {"name": "black"}, "transform": [{"filter": "datum.p === 'C'"}], "mark": {"type": "line", "interpolate": "monotone", "color": "black", "strokeWidth": 1.1, "clip": true}, "encoding": {"x": {"field": "k", "type": "quantitative"}, "y": {"field": "e", "type": "quantitative", "axis": {"orient": "right", "values": [-12.5,-12,-11.5,-11,-10.5,-10,-9.5,-9,-8.5,-8,-7.5,-7,-6.5,-6,-5.5,-5,-4.5,-4,-3.5,-3,-2.5,-2,-1.5,-1,-0.5,0,0.5,1,1.5,2,2.5,3,3.5,4,4.5,5,5.5,6,6.5,7,7.5,8,8.5,9,9.5,10], "tickSize": {"condition": {"test": "datum.value % 2.5 === 0", "value": -16}, "value": -6}, "labels": false, "title": null}}, "detail": {"field": "b"}}}
  ],
  "resolve": {"axis": {"y": "independent"}}},
 {"width": 480, "height": 338, "title": "SCC SCF-DFTB",
  "layer": [
   {"data": {"name": "kp"}, "mark": {"type": "rule", "color": "black", "strokeWidth": 1.4}, "encoding": {"x": {"field": "k", "type": "quantitative", "scale": {"domain": [0, 5.194], "nice": false, "zero": false}, "axis": {"values": [0,1,1.5,1.854,2.914,3.78,4.487,4.841,5.194], "ticks": false, "labelPadding": 13, "labelAlign": {"condition": {"test": "datum.value < 0.5", "value": "left"}, "value": "center"}, "labelExpr": "datum.value < 0.5 ? 'Γ' : datum.value < 1.2 ? 'X' : datum.value < 1.7 ? 'W' : datum.value < 2.4 ? 'K' : datum.value < 3.3 ? 'Γ' : datum.value < 4.1 ? 'L' : datum.value < 4.7 ? 'W' : datum.value < 5.0 ? 'U' : 'X'", "title": null}}}},
   {"data": {"name": "blue"}, "mark": {"type": "line", "interpolate": "monotone", "color": "#3f5fbf", "strokeWidth": 1.1, "clip": true}, "encoding": {"x": {"field": "k", "type": "quantitative"}, "y": {"field": "e", "type": "quantitative", "scale": {"domain": [-13, 10], "nice": false, "zero": false}, "axis": {"orient": "left", "values": [-12.5,-12,-11.5,-11,-10.5,-10,-9.5,-9,-8.5,-8,-7.5,-7,-6.5,-6,-5.5,-5,-4.5,-4,-3.5,-3,-2.5,-2,-1.5,-1,-0.5,0,0.5,1,1.5,2,2.5,3,3.5,4,4.5,5,5.5,6,6.5,7,7.5,8,8.5,9,9.5,10], "tickSize": {"condition": {"test": "datum.value % 2.5 === 0", "value": -16}, "value": -6}, "labelExpr": "datum.value % 2.5 === 0 ? '' + datum.value : ''", "labelPadding": 26, "title": null}}, "detail": {"field": "b"}}},
   {"data": {"name": "black"}, "transform": [{"filter": "datum.p === 'D'"}], "mark": {"type": "line", "interpolate": "monotone", "color": "black", "strokeWidth": 1.1, "clip": true}, "encoding": {"x": {"field": "k", "type": "quantitative"}, "y": {"field": "e", "type": "quantitative", "axis": {"orient": "right", "values": [-12.5,-12,-11.5,-11,-10.5,-10,-9.5,-9,-8.5,-8,-7.5,-7,-6.5,-6,-5.5,-5,-4.5,-4,-3.5,-3,-2.5,-2,-1.5,-1,-0.5,0,0.5,1,1.5,2,2.5,3,3.5,4,4.5,5,5.5,6,6.5,7,7.5,8,8.5,9,9.5,10], "tickSize": {"condition": {"test": "datum.value % 2.5 === 0", "value": -16}, "value": -6}, "labels": false, "title": null}}, "detail": {"field": "b"}}}
  ],
  "resolve": {"axis": {"y": "independent"}}}
], "spacing": 40}
],
"spacing": 19
}
